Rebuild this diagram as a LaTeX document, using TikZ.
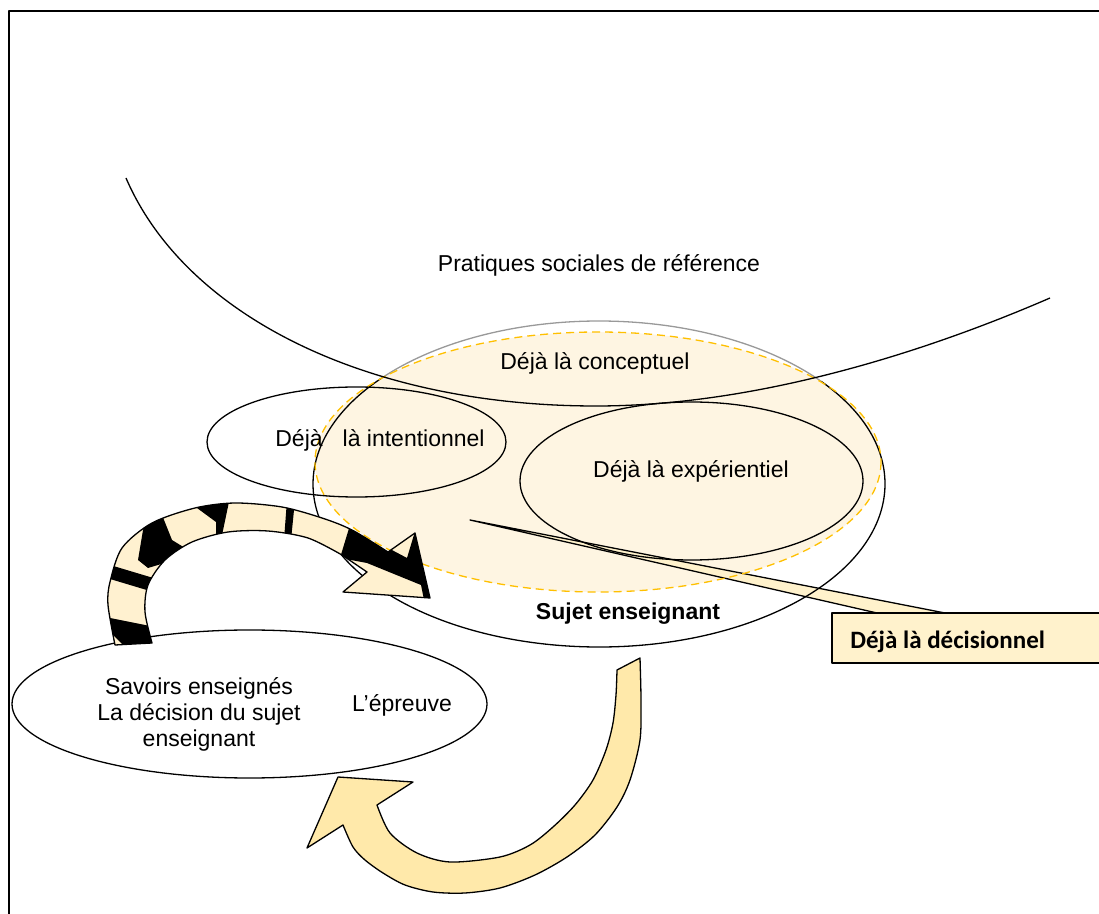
\documentclass[tikz,border=0pt]{standalone}
\usepackage{fontspec}
\setmainfont{Liberation Sans}
\newfontfamily\calib{Carlito}
\definecolor{cream}{HTML}{FEF5E2}
\definecolor{dashc}{HTML}{FFC000}
\definecolor{callout}{HTML}{FFF2CC}
\definecolor{gold}{HTML}{FFE9AA}
\definecolor{stripefill}{HTML}{FFF1D0}
\begin{document}
\begin{tikzpicture}[x=0.5pt,y=-0.5pt,line join=round,
  lbl/.style={inner sep=0pt,font=\fontsize{11.5}{13}\selectfont,align=center},
  ol/.style={draw=black,line width=0.65pt}]
\useasboundingbox (0,0) rectangle (1099,914);
% frame
\draw[line width=1pt] (1099,11) -- (9,11) -- (9,914);
% fills
\fill[white] (599,484) ellipse [x radius=286, y radius=163];
\fill[cream] (598,462) ellipse [x radius=283, y radius=130];
\fill[cream] (691.5,481) ellipse [x radius=171.5, y radius=79];
% callout wedge
\draw[ol,fill=callout] (470,520) -- (877,613) -- (945,613) -- cycle;
% outlines
\draw[ol] (599,484) ++(321:286 and 163) arc[start angle=321, end angle=580.6, x radius=286, y radius=163];
\draw[line width=0.65pt,draw=gray!80] (599,484) ++(220.6:286 and 163) arc[start angle=220.6, end angle=321, x radius=286, y radius=163];
\draw[dashc,dash pattern=on 4pt off 2.5pt,line width=0.65pt] (598,462) ellipse [x radius=283, y radius=130];
\draw[ol] (691.5,481) ellipse [x radius=171.5, y radius=79];
\draw[ol] (356.5,442) ellipse [x radius=149.5, y radius=55];
% pratiques curve
\coordinate (pa) at (126,178);
\coordinate (pb) at (596,406);
\coordinate (pc) at (1050,298);
\draw[ol] (pa) .. controls (185,315) and (366,406) .. (pb) .. controls (760,406) and (930,350) .. (pc);
% savoirs ellipse
\draw[ol,fill=white] (249.5,704) ellipse [x radius=237.5, y radius=74];
% callout box
\draw[ol,fill=callout] (832,613) rectangle (1110,663);
% striped arrow
\def\sarrow{(115,645) -- plot[smooth,tension=0.5] coordinates {(115,645) (108,605) (110,582) (122,548) (152,523) (195,508) (235,503) (282,507) (322,518) (352,530) (388,552)} -- (415,533) -- (430,598) -- (343,592) -- (367,572) -- plot[smooth,tension=0.5] coordinates {(342,555) (308,538) (268,531) (228,532) (192,542) (165,560) (148,585) (145,612) (152,643)} -- cycle}
\fill[stripefill] \sarrow;
\begin{scope}
\clip \sarrow;
\fill[black] (100,616) -- (150,626) -- (160,650) -- (128,650) -- (113,635) -- (100,630) -- cycle;
\fill[black] (100,562) -- (160,580) -- (160,594) -- (100,576) -- cycle;
\fill[black] (150,515) -- (162,515) -- (172,540) -- (185,548) -- (168,562) -- (148,568) -- (138,560) -- (143,530) -- cycle;
\fill[black] (192,500) -- (230,497) -- (221,540) -- (216,540) -- (216,522) -- (197,508) -- cycle;
\fill[black] (287,500) -- (295,500) -- (291,540) -- (284,540) -- cycle;
\fill[black] (350,525) -- (390,549) -- (407,558) -- (416,528) -- (435,600) -- (424,600) -- (421,585) -- (367,563) -- (340,558) -- cycle;
\end{scope}
\draw[ol] \sarrow;
% yellow arrow
\draw[ol,fill=gold] (617,670) -- (640,658) -- plot[smooth,tension=0.5] coordinates {(640,658) (641,700) (640,740) (630,780) (617,807) (595,835) (567,857) (535,875) (500,888) (465,893) (433,892) (405,885) (383,873) (365,860) (353,847) (343,825)} -- (307,848) -- (338,777) -- (413,782) -- (377,805) -- plot[smooth,tension=0.5] coordinates {(377,805) (390,833) (417,853) (450,862) (500,857) (530,845) (553,827) (575,805) (593,780) (606,750) (613,723) (616,695) (617,670)} -- cycle;
% texts
\node[lbl] (prat) at (599,265) {Pratiques sociales de référence};
\node[lbl] (concept) at (595,363) {Déjà là conceptuel};
\node[lbl] (intent) at (380,440) {Déjà\hspace{10pt}là intentionnel};
\node[lbl] (exper) at (691,471) {Déjà là expérientiel};
\node[lbl,font=\fontsize{11.5}{13}\selectfont\bfseries] (sujet) at (628,614) {Sujet enseignant};
\node[lbl] (savoirs) at (199,714) {Savoirs enseignés\\La décision du sujet\\enseignant};
\node[lbl] (epreuve) at (402,705) {L’épreuve};
\node[inner sep=0pt,anchor=west,font=\calib\fontsize{12.5}{14}\selectfont\bfseries] (decis) at (850,642) {Déjà là décisionnel};
\end{tikzpicture}
\end{document}
